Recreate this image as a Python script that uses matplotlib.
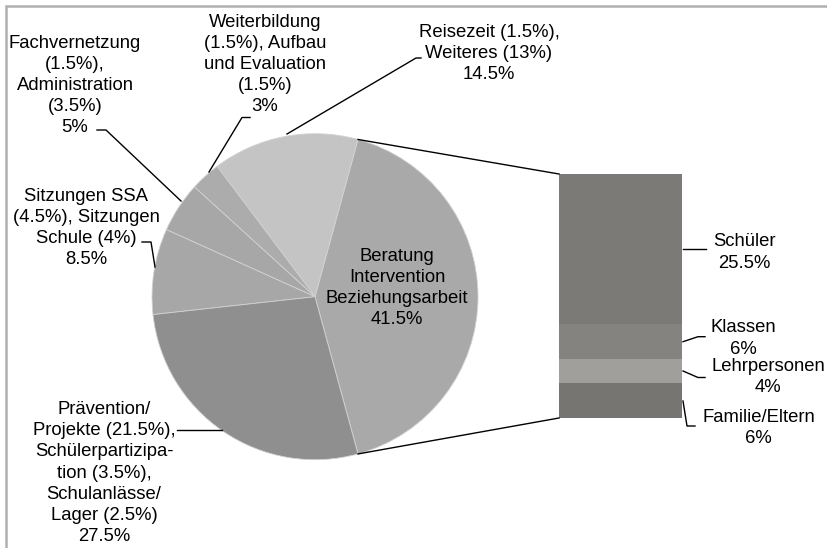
import numpy as np
from matplotlib import pyplot as plt
from matplotlib.patches import Rectangle

W, H = 827, 548

# pie slices, counter-clockwise starting with the split-off slice
pie_names = ['Beratung\nIntervention\nBeziehungsarbeit',
             'Reisezeit (1.5%),\nWeiteres (13%)',
             'Weiterbildung\n(1.5%), Aufbau\nund Evaluation\n(1.5%)',
             'Fachvernetzung\n(1.5%),\nAdministration\n(3.5%)',
             'Sitzungen SSA\n(4.5%), Sitzungen\nSchule (4%)',
             'Prävention/\nProjekte (21.5%),\nSchülerpartizipa-\ntion (3.5%),\nSchulanlässe/\nLager (2.5%)']
pie_values = [41.5, 14.5, 3, 5, 8.5, 27.5]
pie_colors = ['#a9a9a9', '#c4c4c4', '#acacac', '#a7a7a7', '#a7a7a7', '#8f8f8f']

# stacked bar, from bottom to top
bar_names = ['Familie/Eltern', 'Lehrpersonen', 'Klassen', 'Schüler']
bar_values = [6, 4, 6, 25.5]
bar_colors = ['#767571', '#a09f9c', '#84837f', '#7b7a76']

# label layout in pixels (x, y from top)
pie_label_pos = [(397, 288), (489, 53.5), (265, 64.5), (75, 85.5), (86.5, 228), (104, 473)]
pie_leaders = [None,
               [(421, 58), (416, 58), (287, 134)],
               [(250, 117.5), (242, 117.5), (209, 172)],
               [(97, 130), (106, 130), (181, 201)],
               [(142, 242), (151, 242), (155, 267)],
               [(177, 430), (222, 430)]]
bar_label_pos = [(758.5, 428), (768, 377), (743, 338.5), (744.5, 252.5)]
bar_leaders = [[(683, 401), (687, 426), (695, 426)],
               [(683, 371), (698, 377.5), (705, 377.5)],
               [(683, 341.7), (698, 336.7), (705, 336.7)],
               [(683, 249), (706, 249)]]

plt.rcParams['font.family'] = ['Liberation Sans', 'DejaVu Sans']
fs = 13.3
ls = 1.32

fig = plt.figure(figsize=(W / 100, H / 100), dpi=100)
ax = fig.add_axes([0, 0, 1, 1])

center = (315, H - 296.7)
radius = 163
start = -pie_values[0] / sum(pie_values) * 180
ax.pie(pie_values, colors=pie_colors, startangle=start, counterclock=True,
       center=center, radius=radius,
       wedgeprops=dict(edgecolor='#d2d2d2', linewidth=0.6))

bar_x, bar_w = 620.5, 123
bar_base = H - 418
scale = 244 / sum(bar_values)
heights = np.array(bar_values) * scale
bottoms = bar_base + np.concatenate([[0], np.cumsum(heights)[:-1]])
ax.bar(bar_x, heights, width=bar_w, bottom=bottoms, color=bar_colors, linewidth=0)

# connector lines from split slice to bar
theta = np.deg2rad(-start)
bar_left = bar_x - bar_w / 2
for s, yb in [(1, bottoms[-1] + heights[-1]), (-1, bar_base)]:
    px = center[0] + radius * np.cos(theta)
    py = center[1] + s * radius * np.sin(theta)
    ax.plot([px, bar_left], [py, yb], color='black', lw=1)

for name, v, (x, y), lead in zip(pie_names, pie_values, pie_label_pos, pie_leaders):
    ax.text(x, H - y, f'{name}\n{v:g}%', ha='center', va='center',
            multialignment='center', fontsize=fs, linespacing=ls)
    if lead:
        xs, ys = zip(*lead)
        ax.plot(xs, [H - t for t in ys], color='black', lw=1)

for name, v, (x, y), lead in zip(bar_names, bar_values, bar_label_pos, bar_leaders):
    ax.text(x, H - y, f'{name}\n{v:g}%', ha='center', va='center',
            multialignment='center', fontsize=fs, linespacing=ls)
    xs, ys = zip(*lead)
    ax.plot(xs, [H - t for t in ys], color='black', lw=1)

ax.set_xlim(0, W)
ax.set_ylim(0, H)
ax.set_aspect('equal')
ax.axis('off')

# chart area border (only top and left edges fall inside the image)
fig.patches.append(Rectangle((5.5 / W, -0.5), 2, (H - 5.5) / H + 0.5, fill=False,
                             edgecolor='#b0b0b0', lw=1.8, transform=fig.transFigure,
                             figure=fig))

fig.savefig('out.png', dpi=100)
